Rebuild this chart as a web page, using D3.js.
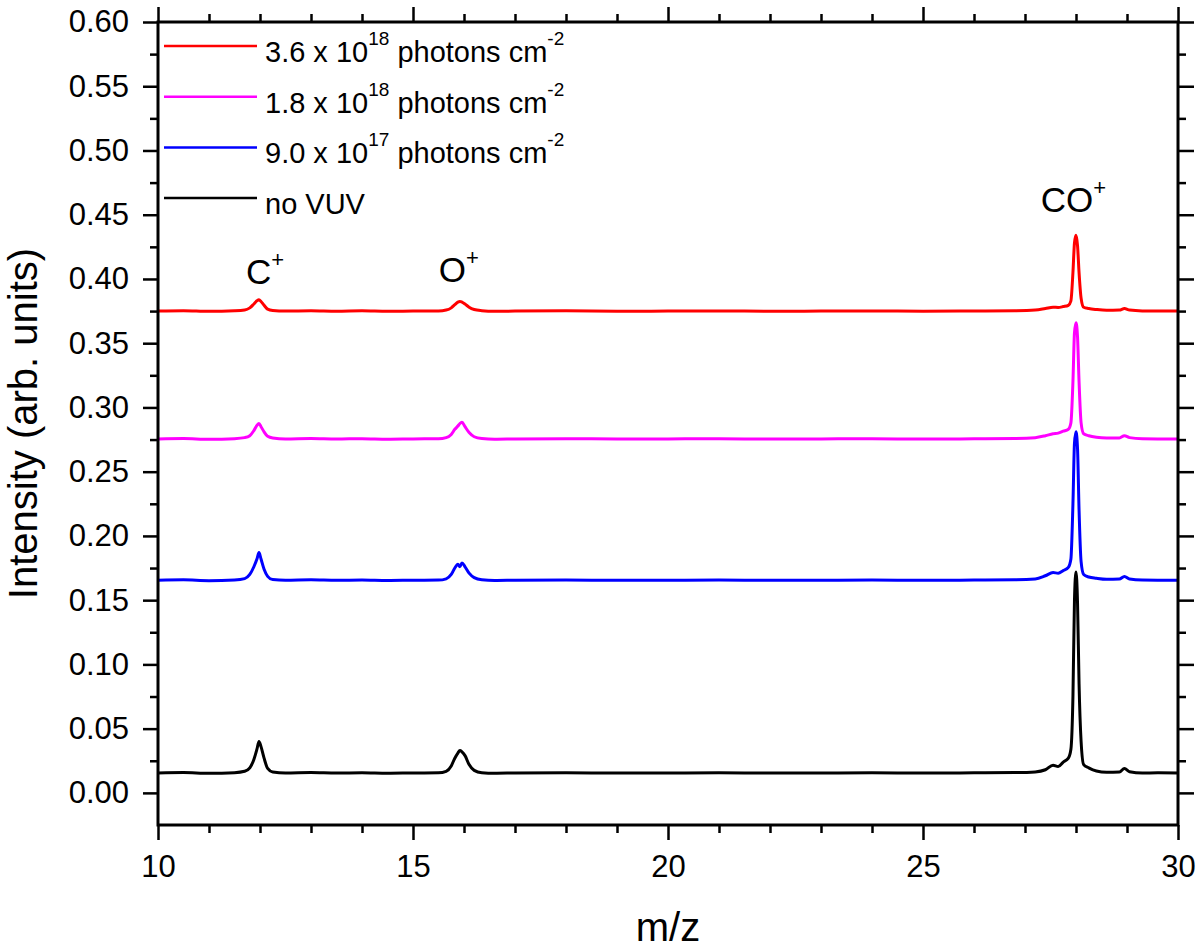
<!DOCTYPE html>
<html>
<head>
<meta charset="utf-8">
<script src="https://cdn.jsdelivr.net/npm/d3@7"></script>
<style>
  body { margin: 0; background: #fff; }
  svg { font-family: "Liberation Sans", Arial, sans-serif; }
</style>
</head>
<body>
<div id="chart"></div>
<script>
const WIDTH = 1200;
const HEIGHT = 950;

// m/z sample positions (shared by all spectra)
const mz = [10.0,10.5,11.0,11.5,11.7,11.8,11.88,11.94,11.98,12.02,12.08,12.15,12.25,12.5,13.0,13.5,14.0,14.5,15.0,15.5,
  15.65,15.75,15.82,15.88,15.92,15.96,16.02,16.1,16.2,16.35,16.6,17.0,18.0,19.0,20.0,21.0,22.0,23.0,24.0,25.0,
  26.0,26.8,27.2,27.4,27.55,27.65,27.75,27.85,27.9,27.94,27.97,28.0,28.03,28.06,28.1,28.15,28.25,28.4,28.6,28.85,
  28.95,29.05,29.3,29.6,30.0];

// intensities
const noVUV = [0.0155,0.0158,0.0152,0.0157,0.0168,0.0195,0.026,0.034,0.040,0.036,0.027,0.019,0.0162,0.0155,0.0158,0.0154,0.0157,0.0153,0.0155,0.0156,
  0.0168,0.021,0.027,0.031,0.033,0.032,0.029,0.022,0.0175,0.0157,0.0153,0.0155,0.0157,0.0154,0.0155,0.0156,0.0154,0.0155,0.0156,0.0154,
  0.0156,0.0158,0.0163,0.018,0.0215,0.0205,0.024,0.027,0.034,0.075,0.150,0.172,0.148,0.085,0.040,0.022,0.0195,0.017,0.016,0.0162,
  0.019,0.0165,0.0155,0.0156,0.0155];
const dose9e17 = [0.1655,0.1658,0.1652,0.1657,0.1668,0.170,0.176,0.182,0.187,0.182,0.174,0.1685,0.166,0.1655,0.1658,0.1654,0.1657,0.1653,0.1655,0.1656,
  0.1666,0.170,0.175,0.178,0.176,0.179,0.176,0.171,0.1675,0.1658,0.1653,0.1655,0.1657,0.1654,0.1655,0.1656,0.1654,0.1655,0.1656,0.1654,
  0.1656,0.1658,0.1665,0.169,0.1715,0.171,0.173,0.1755,0.182,0.225,0.272,0.281,0.268,0.220,0.180,0.170,0.168,0.167,0.1662,0.1665,
  0.1685,0.1665,0.1656,0.1655,0.1655];
const dose18e18 = [0.2755,0.2758,0.2752,0.2757,0.2765,0.278,0.282,0.286,0.2875,0.285,0.281,0.2775,0.2762,0.2755,0.2758,0.2754,0.2757,0.2753,0.2755,0.2756,
  0.2765,0.279,0.283,0.2855,0.2875,0.2885,0.285,0.2805,0.2772,0.2758,0.2753,0.2755,0.2757,0.2754,0.2755,0.2756,0.2754,0.2755,0.2756,0.2754,
  0.2756,0.2758,0.2765,0.278,0.2795,0.280,0.2815,0.283,0.288,0.320,0.358,0.366,0.355,0.320,0.288,0.2795,0.278,0.2768,0.2762,0.2762,
  0.278,0.2765,0.2756,0.2755,0.2755];
const dose36e18 = [0.375,0.3753,0.3748,0.3752,0.3758,0.3775,0.3805,0.383,0.3838,0.3825,0.3795,0.3765,0.3755,0.375,0.3753,0.3749,0.3752,0.3748,0.375,0.3751,
  0.3758,0.3775,0.380,0.382,0.3825,0.382,0.3805,0.378,0.3762,0.3753,0.3748,0.375,0.3752,0.3749,0.375,0.3751,0.3749,0.375,0.3751,0.3749,
  0.3751,0.3753,0.3758,0.377,0.378,0.3778,0.3785,0.3795,0.383,0.405,0.428,0.434,0.426,0.405,0.385,0.378,0.377,0.3762,0.3756,0.3758,
  0.377,0.3758,0.3751,0.375,0.375];

// legend entries: [mantissa, exponent] ; null = no VUV
const seriesNames = [["3.6 x 10", "18"], ["1.8 x 10", "18"], ["9.0 x 10", "17"], null];
const seriesColors = ["#ff0000", "#ff00ff", "#0000ff", "#000000"];
const seriesValues = [dose36e18, dose18e18, dose9e17, noVUV];

// peak labels
const peakNames = ["C", "O", "CO"];
const peakX = [12.1, 15.9, 27.95];
const peakY = [0.396, 0.398, 0.452];

const xMajor = [10, 15, 20, 25, 30];
const xMinor = d3.range(10, 31, 1).filter(d => d % 5 !== 0);
const yMajor = d3.range(0, 0.601, 0.05);
const yMinor = d3.range(0.025, 0.6, 0.05);

let margin = {top: 22, right: 22, bottom: 125, left: 158};
let width = WIDTH - margin.left - margin.right;
let height = HEIGHT - margin.top - margin.bottom;

let xScale = d3.scaleLinear().domain([10, 30]).range([0, width]);
let yScale = d3.scaleLinear().domain([-0.025, 0.6]).range([height, 0]);

let svg = d3.select("#chart").append("svg")
    .attr("width", WIDTH)
    .attr("height", HEIGHT);
let svgG = svg.append("g")
    .attr("transform", "translate(" + margin.left + "," + margin.top + ")");

// spectra
let line = d3.line()
    .x(d => xScale(d[0]))
    .y(d => yScale(d[1]))
    .curve(d3.curveMonotoneX);

seriesValues.slice().reverse().forEach(function(vals, i) {
  let idx = seriesValues.length - 1 - i;
  svgG.append("path")
      .datum(mz.map((m, j) => [m, vals[j]]))
      .attr("fill", "none")
      .attr("stroke", seriesColors[idx])
      .attr("stroke-width", 3)
      .attr("stroke-linejoin", "round")
      .attr("d", line);
});

// axes
function styleAxis(g) {
  g.select(".domain").remove();
  g.selectAll(".tick line").attr("stroke", "#000").attr("stroke-width", 2.5);
  g.selectAll(".tick text").attr("fill", "#000").style("font-size", "31px");
}
const fmt = d3.format(".2f");

// minor ticks first
svgG.append("g").call(d3.axisLeft(yScale).tickValues(yMinor).tickSize(8).tickFormat("")).call(styleAxis);
svgG.append("g").attr("transform", "translate(" + width + ",0)")
    .call(d3.axisRight(yScale).tickValues(yMinor).tickSize(8).tickFormat("")).call(styleAxis);
svgG.append("g").attr("transform", "translate(0," + height + ")")
    .call(d3.axisBottom(xScale).tickValues(xMinor).tickSize(8).tickFormat("")).call(styleAxis);
svgG.append("g")
    .call(d3.axisTop(xScale).tickValues(xMinor).tickSize(8).tickFormat("")).call(styleAxis);

// major ticks
svgG.append("g").call(d3.axisLeft(yScale).tickValues(yMajor).tickSize(15).tickPadding(14).tickFormat(fmt)).call(styleAxis);
svgG.append("g").attr("transform", "translate(" + width + ",0)")
    .call(d3.axisRight(yScale).tickValues(yMajor).tickSize(16).tickFormat("")).call(styleAxis);
svgG.append("g").attr("transform", "translate(0," + height + ")")
    .call(d3.axisBottom(xScale).tickValues(xMajor).tickSize(15).tickPadding(15).tickFormat(d3.format("d"))).call(styleAxis);
svgG.append("g")
    .call(d3.axisTop(xScale).tickValues(xMajor).tickSize(15).tickFormat("")).call(styleAxis);

// frame
svgG.append("rect")
    .attr("width", width)
    .attr("height", height)
    .attr("fill", "none")
    .attr("stroke", "#000")
    .attr("stroke-width", 3);

// axis titles
svg.append("text")
    .attr("x", margin.left + width / 2)
    .attr("y", 941)
    .attr("text-anchor", "middle")
    .style("font-size", "40px")
    .text("m/z");
svg.append("text")
    .attr("transform", "translate(37," + (margin.top + height / 2) + ") rotate(-90)")
    .attr("text-anchor", "middle")
    .style("font-size", "40px")
    .text("Intensity (arb. units)");

// legend
let legend = svgG.append("g").attr("transform", "translate(6,0)");
seriesNames.forEach(function(name, i) {
  let row = legend.append("g").attr("transform", "translate(0," + (24 + i * 50.7) + ")");
  row.append("line")
      .attr("x1", 0).attr("x2", 93)
      .attr("stroke", seriesColors[i])
      .attr("stroke-width", 2.5);
  let t = row.append("text")
      .attr("x", 101)
      .attr("y", 16)
      .style("font-size", "29px");
  if (name === null) {
    t.text("no VUV");
  } else {
    t.append("tspan").text(name[0]);
    t.append("tspan").attr("dy", -17).style("font-size", "19px").text(name[1]);
    t.append("tspan").attr("dy", 17).text(" photons cm");
    t.append("tspan").attr("dy", -17).style("font-size", "19px").text("-2");
  }
});

// peak labels
peakNames.forEach(function(name, i) {
  let t = svgG.append("text")
      .attr("x", xScale(peakX[i]))
      .attr("y", yScale(peakY[i]))
      .attr("text-anchor", "middle")
      .style("font-size", "35px");
  t.append("tspan").text(name);
  t.append("tspan").attr("dy", -17).style("font-size", "22px").text("+");
});
</script>
</body>
</html>
